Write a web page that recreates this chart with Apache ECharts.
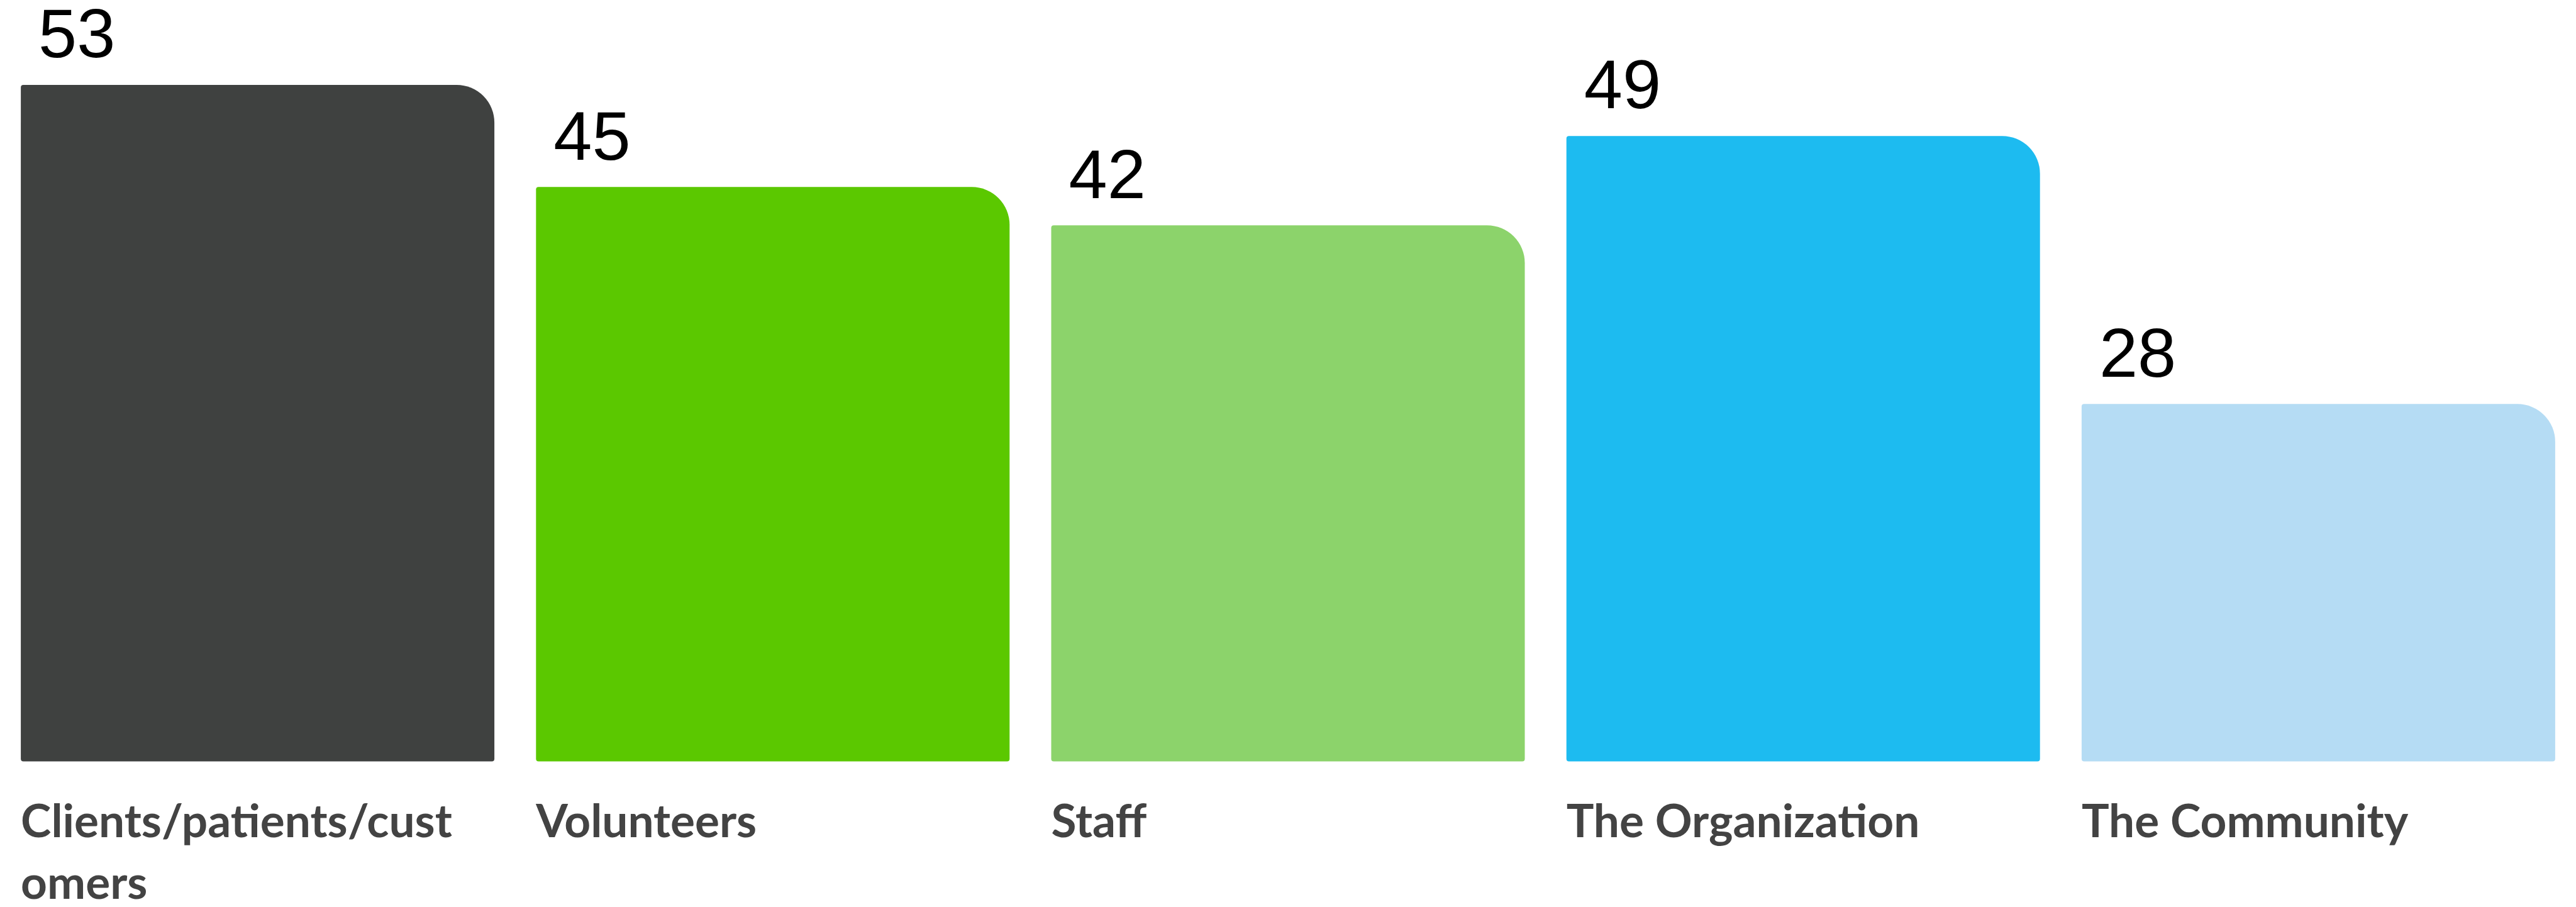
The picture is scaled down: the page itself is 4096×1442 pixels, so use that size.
<!DOCTYPE html>
<html>
<head>
<meta charset="utf-8">
<script src="https://cdn.jsdelivr.net/npm/echarts@6/dist/echarts.min.js"></script>
<style>
html,body{margin:0;padding:0;background:#fff;}
#chart{width:4096px;height:1442px;}
</style>
</head>
<body>
<div id="chart"></div>
<script>
const categories = ["Clients/patients/customers", "Volunteers", "Staff", "The Organization", "The Community"];
const tickLabels = ["Clients/patients/cust\nomers", "Volunteers", "Staff", "The Organization", "The Community"];
const values = [53, 45, 42, 49, 28];
const barColors = ["#3f4140", "#5bc800", "#8cd36b", "#1dbbf0", "#b5dcf4"];

const BAR_W = 753;

const chart = echarts.init(document.getElementById('chart'), null, {renderer: 'canvas'});
chart.setOption({
  animation: false,
  backgroundColor: '#ffffff',
  grid: {left: -4, right: 0, top: 135, bottom: 226, containLabel: false},
  xAxis: {
    type: 'category',
    data: categories,
    axisLine: {show: false},
    axisTick: {show: false},
    splitLine: {show: false},
    axisLabel: {
      interval: 0,
      margin: 48,
      align: 'center',
      formatter: function (v, i) { return '{a|' + tickLabels[i] + '}'; },
      rich: {
        a: {
          width: BAR_W,
          align: 'left',
          fontFamily: 'Lato',
          fontWeight: 'bold',
          fontSize: 73,
          lineHeight: 98,
          color: '#434343'
        }
      }
    }
  },
  yAxis: {
    type: 'value',
    min: 0,
    max: 53,
    show: false,
    splitLine: {show: false}
  },
  series: [{
    type: 'bar',
    barWidth: BAR_W,
    data: values.map(function (v, i) {
      return {value: v, itemStyle: {color: barColors[i]}};
    }),
    itemStyle: {borderRadius: [4, 60, 4, 4]},
    label: {
      show: true,
      position: [28, -19],
      verticalAlign: 'bottom',
      align: 'left',
      fontFamily: 'Liberation Sans',
      fontSize: 110,
      lineHeight: 110,
      color: '#000000'
    }
  }]
});
</script>
</body>
</html>
